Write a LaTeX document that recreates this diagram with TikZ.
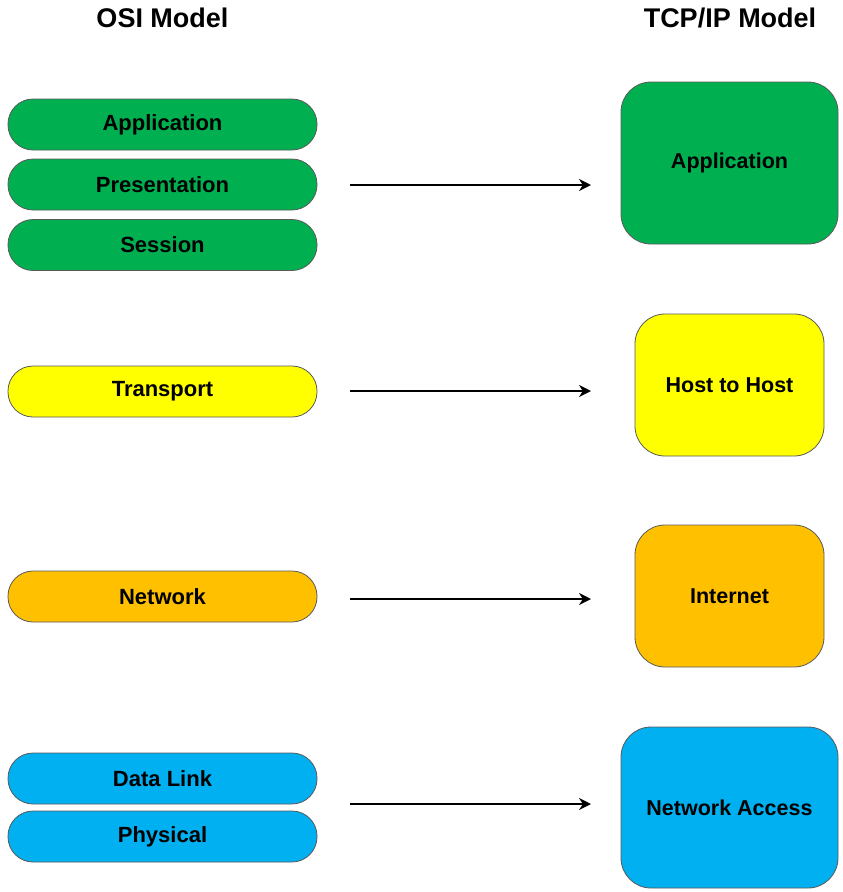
\documentclass[tikz,border=0pt]{standalone}
\usepackage{fontspec}
\setmainfont{Liberation Sans}
\usetikzlibrary{arrows.meta}
\definecolor{cgreen}{HTML}{00B050}
\definecolor{cyellow}{HTML}{FFFF00}
\definecolor{corange}{HTML}{FFC000}
\definecolor{cblue}{HTML}{00B0F0}
\definecolor{cborder}{HTML}{5A5A5A}
\tikzset{
  pill/.style={draw=cborder, line width=0.8pt, rounded corners=25pt, minimum width=309pt, minimum height=51pt, inner sep=0pt, font=\bfseries\fontsize{22}{26}\selectfont},
  tbox/.style={draw=cborder, line width=0.8pt, rounded corners=30pt, inner sep=0pt, font=\bfseries\fontsize{21.5}{26}\selectfont},
  title/.style={font=\bfseries\fontsize{27}{31}\selectfont},
  arr/.style={line width=2.2pt, -{Stealth[length=12pt,width=12pt]}}
}
\begin{document}
\begin{tikzpicture}[x=1pt,y=-1pt]
\useasboundingbox (0,0) rectangle (843,892);
\node[title] (osi) at (162.5,18) {OSI Model};
\node[title] (tcp) at (730,18) {TCP/IP Model};
% OSI layers
\node[pill, fill=cgreen] (app) at (162.5,124.5) {Application};
\node[pill, fill=cgreen] (pres) at (162.5,184.5) {Presentation};
\node[pill, fill=cgreen] (sess) at (162.5,245) {Session};
\node[pill, fill=cyellow] (trans) at (162.5,391.5) {Transport};
\node[pill, fill=corange] (net) at (162.5,596.5) {Network};
\node[pill, fill=cblue] (dl) at (162.5,778.5) {Data Link};
\node[pill, fill=cblue] (phy) at (162.5,836.5) {Physical};
% TCP/IP layers
\node[tbox, fill=cgreen, minimum width=217pt, minimum height=162pt] (tapp) at (729.5,163) {Application};
\node[tbox, fill=cyellow, minimum width=189pt, minimum height=142pt] (thost) at (729.5,385) {Host to Host};
\node[tbox, fill=corange, minimum width=189pt, minimum height=142pt] (tinet) at (729.5,596) {Internet};
\node[tbox, fill=cblue, minimum width=217pt, minimum height=161pt] (tna) at (729.5,807.5) {Network Access};
% arrows
\coordinate (s1) at (350,185); \coordinate (e1) at (591,185);
\coordinate (s2) at (350,391); \coordinate (e2) at (591,391);
\coordinate (s3) at (350,599); \coordinate (e3) at (591,599);
\coordinate (s4) at (350,804); \coordinate (e4) at (591,804);
\draw[arr] (s1) -- (e1);
\draw[arr] (s2) -- (e2);
\draw[arr] (s3) -- (e3);
\draw[arr] (s4) -- (e4);
\end{tikzpicture}
\end{document}
